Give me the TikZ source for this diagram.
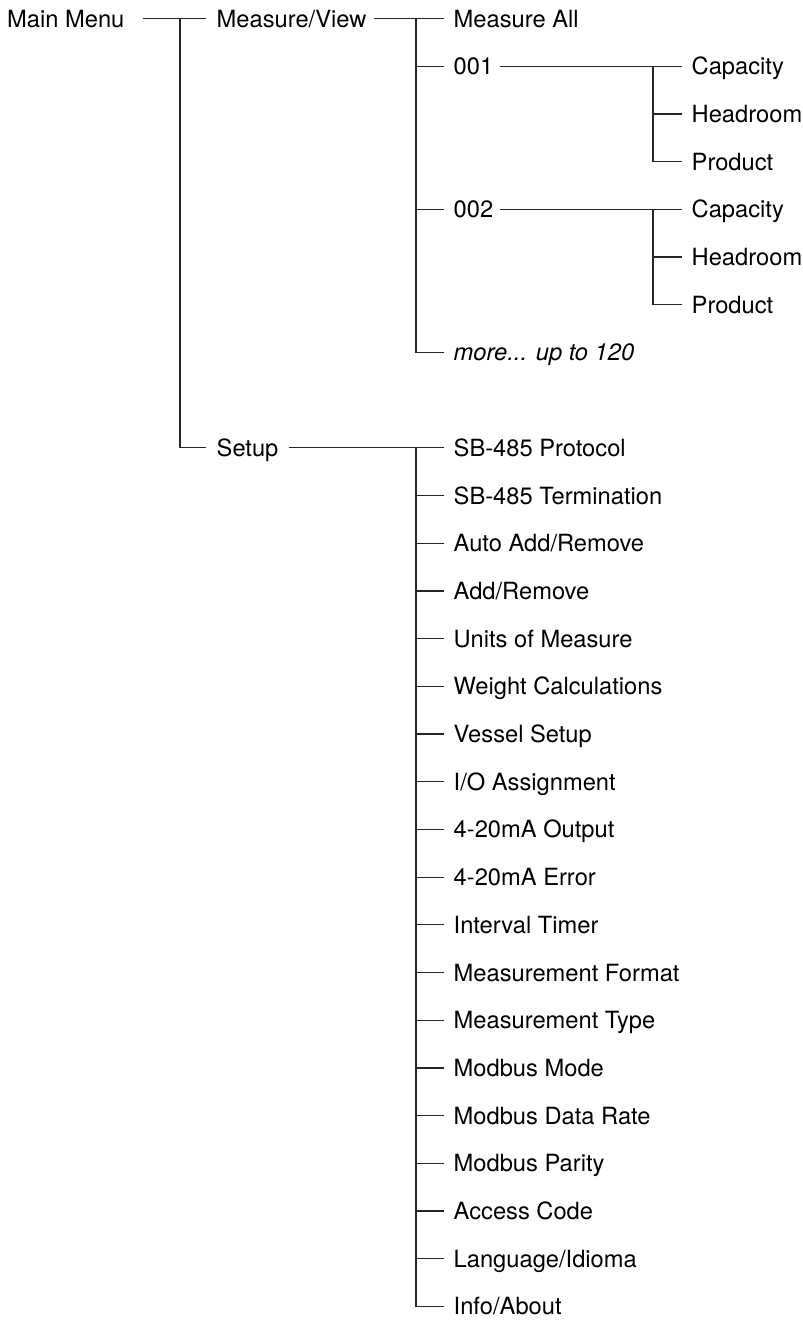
\documentclass[tikz,border=0pt]{standalone}
\usepackage{fontspec}
\setmainfont{TeX Gyre Heros}
\begin{document}
\begin{tikzpicture}[x=1pt,y=-1pt,
  lbl/.style={anchor=west,inner sep=0pt,text height=17pt,text depth=0pt,font=\fontsize{23.7}{28}\selectfont},
  conn/.style={draw=black!85,line width=1.2pt}]
\useasboundingbox (0,0) rectangle (803,1320);
% level 0 / 1
\node[lbl] (mm) at (7,18.5) {Main Menu};
\node[lbl] (mv) at (216.5,18.5) {Measure/View};
\node[lbl] (setup) at (216.5,{18.5+47.7*9}) {Setup};
\coordinate (v0) at (180,18.5);
\draw[conn] ([xshift=18pt]mm.east) -- ([xshift=-11pt]mv.west);
\draw[conn] (v0) |- ([xshift=-11pt]setup.west);
% level 2 under Measure/View
\node[lbl] (ma) at (453.5,18.5) {Measure All};
\node[lbl] (n1) at (453.5,{18.5+47.7*1}) {001};
\node[lbl] (n2) at (453.5,{18.5+47.7*4}) {002};
\node[lbl] (more) at (453.5,{18.5+47.7*7}) {\itshape more... up to 120};
\coordinate (v1) at (416,18.5);
\draw[conn] ([xshift=7pt]mv.east) -- ([xshift=-9.5pt]ma.west);
\draw[conn] (v1) |- ([xshift=-9.5pt]more.west);
\draw[conn] (n1.west -| v1) -- ([xshift=-9.5pt]n1.west);
\draw[conn] (n2.west -| v1) -- ([xshift=-9.5pt]n2.west);
% level 3 under 001 and 002
\foreach \b/\base in {a/1,b/4}{
  \node[lbl] (c\b) at (691.5,{18.5+47.7*\base}) {Capacity};
  \node[lbl] (h\b) at (691.5,{18.5+47.7*(\base+1)}) {Headroom};
  \node[lbl] (p\b) at (691.5,{18.5+47.7*(\base+2)}) {Product};
  \coordinate (v\b) at (653,{18.5+47.7*\base});
  \draw[conn] (v\b) |- ([xshift=-10pt]p\b.west);
  \draw[conn] (h\b.west -| v\b) -- ([xshift=-10pt]h\b.west);
}
\draw[conn] ([xshift=7pt]n1.east) -- ([xshift=-10pt]ca.west);
\draw[conn] ([xshift=7pt]n2.east) -- ([xshift=-10pt]cb.west);
% Setup children
\foreach \t [count=\i from 9] in {SB-485 Protocol,SB-485 Termination,Auto Add/Remove,Add/Remove,Units of Measure,Weight Calculations,Vessel Setup,I/O Assignment,4-20mA Output,4-20mA Error,Interval Timer,Measurement Format,Measurement Type,Modbus Mode,Modbus Data Rate,Modbus Parity,Access Code,Language/Idioma,Info/About}{
  \node[lbl] (s\i) at (453.5,{18.5+47.7*\i}) {\t};
}
\coordinate (v2) at (416,{18.5+47.7*9});
\draw[conn] ([xshift=10pt]setup.east) -- ([xshift=-9.5pt]s9.west);
\draw[conn] (v2) |- ([xshift=-9.5pt]s27.west);
\foreach \i in {10,...,26}{
  \draw[conn] (s\i.west -| v2) -- ([xshift=-9.5pt]s\i.west);
}
\end{tikzpicture}
\end{document}
